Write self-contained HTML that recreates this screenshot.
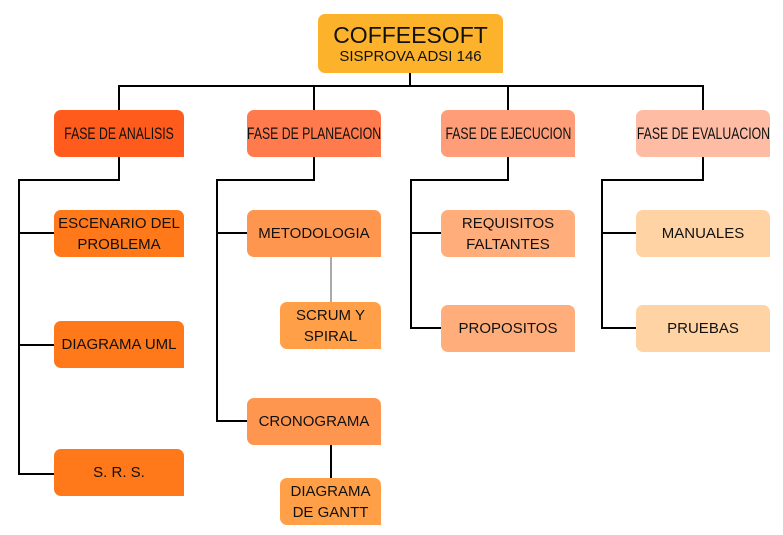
<!DOCTYPE html>
<html><head><meta charset="utf-8"><style>
body{margin:0;width:783px;height:535px;background:#fff;position:relative;overflow:hidden;font-family:"Liberation Sans",sans-serif;}
.b{position:absolute;border-radius:7px 7px 0 7px;display:flex;align-items:center;justify-content:center;text-align:center;color:#111;font-size:15px;line-height:21px;}
.p span{display:inline-block;transform:scaleX(0.72);font-size:17px;white-space:nowrap;}
svg{position:absolute;left:0;top:0;}
</style></head><body>
<svg width="783" height="535">
<g stroke="#000" stroke-width="2" fill="none">
<path d="M410 73V86M119 110V86H703V110M314 86V110M508 86V110"/>
<path d="M119 157V180H19V474H54M19 233H54M19 345H54"/>
<path d="M314 157V180H217V421H247M217 233H247"/>
<path d="M508 157V180H411V328H441M411 233H441"/>
<path d="M703 157V180H602V328H636M602 233H636"/>
<path d="M331 444V478"/>
</g>
<path d="M331 257V302" stroke="#555" stroke-width="1"/>
</svg>
<div class="b" style="left:318px;top:14px;width:185px;height:59px;background:#FDB22B;flex-direction:column;">
<div style="font-size:23px;line-height:26px;">COFFEESOFT</div><div style="font-size:15px;line-height:18px;">SISPROVA ADSI 146</div></div>
<div class="b p" style="left:54px;top:110px;width:130px;height:47px;background:#FE5B1C;"><span>FASE DE ANALISIS</span></div>
<div class="b p" style="left:247px;top:110px;width:134px;height:47px;background:#FF7B4E;"><span>FASE DE PLANEACION</span></div>
<div class="b p" style="left:441px;top:110px;width:134px;height:47px;background:#FE9D78;"><span>FASE DE EJECUCION</span></div>
<div class="b p" style="left:636px;top:110px;width:134px;height:47px;background:#FFBCA5;"><span>FASE DE EVALUACION</span></div>
<div class="b" style="left:54px;top:210px;width:130px;height:47px;background:#FF7819;">ESCENARIO DEL<br>PROBLEMA</div>
<div class="b" style="left:54px;top:321px;width:130px;height:47px;background:#FF7819;">DIAGRAMA UML</div>
<div class="b" style="left:54px;top:449px;width:130px;height:47px;background:#FF7819;">S. R. S.</div>
<div class="b" style="left:247px;top:210px;width:134px;height:47px;background:#FF964F;">METODOLOGIA</div>
<div class="b" style="left:280px;top:302px;width:101px;height:47px;background:#FFA048;">SCRUM Y<br>SPIRAL</div>
<div class="b" style="left:247px;top:398px;width:134px;height:47px;background:#FF964F;">CRONOGRAMA</div>
<div class="b" style="left:280px;top:478px;width:101px;height:47px;background:#FFA048;">DIAGRAMA<br>DE GANTT</div>
<div class="b" style="left:441px;top:210px;width:134px;height:47px;background:#FFAD7A;">REQUISITOS<br>FALTANTES</div>
<div class="b" style="left:441px;top:305px;width:134px;height:47px;background:#FFAD7A;">PROPOSITOS</div>
<div class="b" style="left:636px;top:210px;width:134px;height:47px;background:#FFD3A4;">MANUALES</div>
<div class="b" style="left:636px;top:305px;width:134px;height:47px;background:#FFD3A4;">PRUEBAS</div>
</body></html>
